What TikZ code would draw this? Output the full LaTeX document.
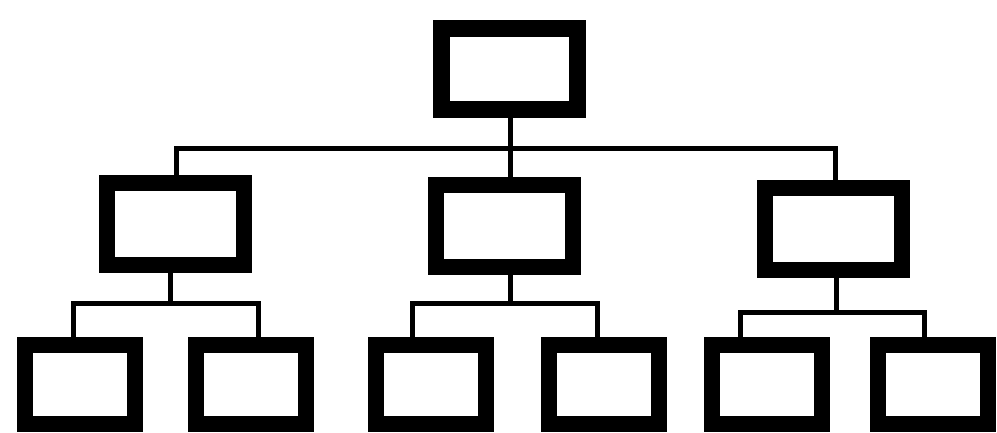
\documentclass[tikz,border=0pt]{standalone}

\begin{document}
\begin{tikzpicture}[
        x = 1pt,
        y = -1pt,
        box/.style = {
            draw,
            rectangle,
            line width = 16pt,
            minimum width = #1,
            minimum height = 82pt,
            inner sep = 0pt
        },
        box/.default = 137pt,
        leaf/.style = {
            box = 110pt,
            minimum height = 79pt
        }
            ]
            \useasboundingbox (0,0) rectangle (997,432);

            \node[box=136pt, line width = 17pt, minimum height = 81pt] (1) at (509.5,69) {};

            \node[box] (2) at (175.5,223.5) {};
            \node[box] (3) at (504,226) {};
            \node[box] (4) at (833.5,228.5) {};

            \node[leaf] (5) at (79.5,384.5) {};
            \node[leaf] (6) at (251,384.5) {};
            \node[leaf] (7) at (431,384.5) {};
            \node[leaf] (8) at (603.5,384.5) {};
            \node[leaf] (9) at (766.5,384.5) {};
            \node[leaf] (10) at (932.5,384.5) {};

            % joints of the connectors
            \coordinate (j1) at (510,148);
            \coordinate (l1) at (176,148);
            \coordinate (r1) at (835,148);
            \coordinate (j2) at (170,303);
            \coordinate (l2) at (73,303);
            \coordinate (r2) at (258,303);
            \coordinate (j3) at (510,303);
            \coordinate (l3) at (412,303);
            \coordinate (r3) at (597,303);
            \coordinate (j4) at (836,312);
            \coordinate (l4) at (740,312);
            \coordinate (r4) at (924,312);

            \draw[line width = 5pt] (j1 |- 1.south) -- (j1 |- 3.north);
            \draw[line width = 5pt] (l1 |- 2.north) -- (l1) -- (r1) -- (r1 |- 4.north);

            \draw[line width = 5pt] (j2 |- 2.south) -- (j2);
            \draw[line width = 5pt] (l2 |- 5.north) -- (l2) -- (r2) -- (r2 |- 6.north);

            \draw[line width = 5pt] (j3 |- 3.south) -- (j3);
            \draw[line width = 5pt] (l3 |- 7.north) -- (l3) -- (r3) -- (r3 |- 8.north);

            \draw[line width = 5pt] (j4 |- 4.south) -- (j4);
            \draw[line width = 5pt] (l4 |- 9.north) -- (l4) -- (r4) -- (r4 |- 10.north);

        \end{tikzpicture}
\end{document}
